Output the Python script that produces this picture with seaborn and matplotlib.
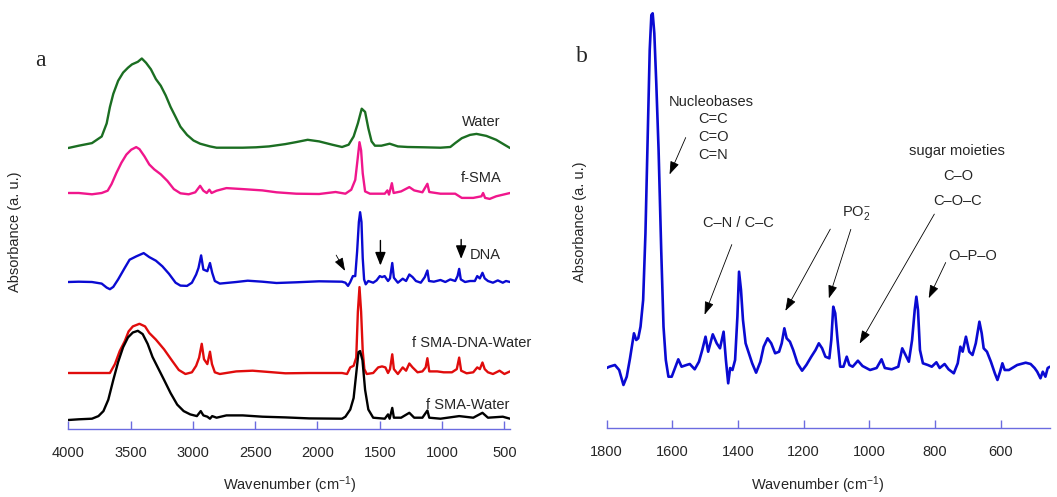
import matplotlib
matplotlib.use("Agg")
import matplotlib.pyplot as plt
import seaborn as sns

## FTIR spectra: (a) stacked samples, (b) DNA fingerprint region

# wavenumbers (cm-1) and absorbance above each curve's own baseline (a. u.)
water_wn = [4000, 3916, 3810, 3732, 3692, 3666, 3639, 3600, 3560, 3521, 3489, 3442, 3410, 3376,
            3337, 3297, 3258, 3218, 3179, 3139, 3100, 3047, 2995, 2942, 2863, 2810, 2705, 2600,
            2494, 2389, 2258, 2171, 2079, 1987, 1882, 1803, 1750, 1710, 1676, 1645, 1618, 1592,
            1566, 1539, 1487, 1421, 1355, 1276, 1145, 1013, 934, 895, 842, 776, 724, 645, 566,
            500, 455]
water_abs = [0.0, 0.023, 0.049, 0.115, 0.246, 0.41, 0.541, 0.672, 0.754, 0.803, 0.836, 0.862,
             0.895, 0.852, 0.787, 0.689, 0.623, 0.525, 0.41, 0.311, 0.213, 0.131, 0.075, 0.043,
             0.016, 0.003, 0.003, 0.003, 0.007, 0.016, 0.039, 0.059, 0.082, 0.066, 0.033, 0.01,
             0.033, 0.115, 0.246, 0.393, 0.361, 0.197, 0.066, 0.023, 0.023, 0.043, 0.016, 0.01,
             0.007, 0.003, 0.01, 0.049, 0.098, 0.131, 0.141, 0.121, 0.082, 0.033, 0.0]

fsma_wn = [4000, 3916, 3810, 3732, 3684, 3653, 3613, 3574, 3534, 3495, 3455, 3429, 3389, 3350,
           3310, 3258, 3205, 3153, 3100, 3034, 2981, 2942, 2916, 2889, 2868, 2850, 2810, 2731,
           2600, 2442, 2329, 2171, 1987, 1855, 1776, 1729, 1697, 1679, 1663, 1650, 1637, 1618,
           1579, 1460, 1439, 1426, 1403, 1389, 1329, 1263, 1224, 1158, 1118, 1103, 1013, 895,
           842, 750, 684, 671, 655, 618, 566, 455]
fsma_abs = [0.0, 0.0, -0.013, 0.0, 0.023, 0.089, 0.203, 0.302, 0.384, 0.433, 0.459, 0.439,
            0.367, 0.285, 0.236, 0.187, 0.121, 0.039, -0.003, -0.013, 0.007, 0.072, 0.023, 0.0,
            0.033, 0.0, 0.023, 0.049, 0.039, 0.026, 0.007, -0.007, -0.01, 0.01, -0.007, 0.033,
            0.131, 0.328, 0.508, 0.426, 0.197, 0.016, -0.007, -0.007, 0.026, -0.016, 0.098, 0.0,
            0.016, 0.059, 0.026, 0.007, 0.092, 0.01, -0.007, -0.007, -0.049, -0.049, -0.033, 0.0,
            -0.049, -0.059, -0.033, 0.0]

dna_wn = [4000, 3916, 3810, 3732, 3692, 3666, 3639, 3600, 3547, 3508, 3455, 3395, 3350, 3297,
          3245, 3192, 3139, 3100, 3047, 3008, 2974, 2955, 2934, 2916, 2884, 2863, 2845, 2824,
          2784, 2652, 2560, 2442, 2329, 2171, 1987, 1803, 1776, 1755, 1737, 1716, 1697, 1682,
          1668, 1658, 1647, 1637, 1626, 1613, 1592, 1553, 1526, 1500, 1482, 1461, 1434, 1418,
          1400, 1387, 1355, 1316, 1289, 1263, 1237, 1210, 1171, 1139, 1118, 1105, 1066, 1013,
          974, 934, 895, 876, 863, 850, 816, 776, 737, 718, 697, 676, 658, 632, 592, 553, 513,
          487, 455]
dna_abs = [0.0, 0.003, 0.0, -0.016, -0.056, -0.072, -0.049, 0.026, 0.141, 0.223, 0.256, 0.289,
           0.249, 0.213, 0.157, 0.082, -0.007, -0.036, -0.039, -0.007, 0.075, 0.141, 0.266, 0.125,
           0.108, 0.19, 0.092, 0.01, -0.016, 0.0, 0.013, 0.003, -0.01, -0.003, 0.007, 0.003,
           -0.007, -0.039, 0.0, 0.059, 0.059, 0.305, 0.6, 0.698, 0.6, 0.239, 0.026, -0.023, 0.01,
           -0.007, 0.016, 0.059, 0.049, 0.059, 0.01, 0.036, 0.19, 0.043, -0.007, 0.033, 0.01,
           0.075, 0.049, 0.01, -0.007, 0.049, 0.115, 0.01, 0.003, 0.02, 0.0, 0.026, 0.01, 0.059,
           0.131, 0.026, 0.0, 0.01, 0.01, 0.059, 0.036, 0.092, 0.036, 0.01, -0.007, 0.016,
           -0.007, 0.01, 0.0]

mix_wn = [4000, 3810, 3666, 3626, 3587, 3547, 3516, 3482, 3429, 3384, 3350, 3297, 3231, 3166,
          3113, 3060, 3008, 2974, 2950, 2929, 2911, 2884, 2863, 2847, 2824, 2784, 2652, 2521,
          2389, 2258, 2066, 1803, 1763, 1737, 1710, 1689, 1676, 1663, 1650, 1637, 1624, 1605,
          1553, 1513, 1482, 1455, 1434, 1418, 1400, 1387, 1355, 1316, 1289, 1263, 1237, 1197,
          1158, 1132, 1118, 1103, 1039, 987, 921, 882, 863, 847, 803, 750, 718, 697, 676, 658,
          632, 592, 539, 500, 455]
mix_abs = [0.0, 0.0, 0.0, 0.089, 0.22, 0.318, 0.416, 0.466, 0.492, 0.466, 0.4, 0.334, 0.236,
           0.121, 0.03, -0.01, 0.007, 0.072, 0.154, 0.292, 0.138, 0.089, 0.213, 0.089, 0.007,
           -0.01, 0.016, 0.023, 0.01, -0.003, 0.0, 0.0, -0.01, 0.056, 0.072, 0.154, 0.613, 0.859,
           0.613, 0.22, 0.039, -0.01, 0.0, 0.056, 0.066, 0.056, 0.0, 0.039, 0.187, 0.039, -0.01,
           0.056, 0.023, 0.095, 0.056, 0.007, 0.016, 0.056, 0.148, 0.016, 0.016, 0.007, 0.007,
           0.039, 0.154, 0.023, -0.003, 0.007, 0.056, 0.039, 0.105, 0.039, 0.007, -0.01, 0.023,
           -0.01, 0.016]

fsmaw_wn = [4000, 3916, 3810, 3758, 3718, 3679, 3639, 3600, 3560, 3521, 3482, 3442, 3403, 3363,
            3324, 3284, 3231, 3179, 3126, 3074, 3021, 2968, 2937, 2916, 2884, 2863, 2845, 2810,
            2731, 2600, 2442, 2258, 2066, 1803, 1776, 1737, 1710, 1689, 1671, 1658, 1639, 1618,
            1592, 1553, 1460, 1434, 1421, 1400, 1387, 1329, 1263, 1224, 1158, 1118, 1103, 1013,
            863, 750, 676, 632, 513, 455]
fsmaw_abs = [0.0, 0.007, 0.013, 0.039, 0.089, 0.203, 0.4, 0.58, 0.728, 0.826, 0.875, 0.892,
             0.859, 0.761, 0.63, 0.531, 0.4, 0.269, 0.154, 0.089, 0.056, 0.039, 0.089, 0.046,
             0.033, 0.013, 0.039, 0.023, 0.046, 0.046, 0.033, 0.026, 0.016, 0.013, 0.033, 0.105,
             0.22, 0.466, 0.679, 0.689, 0.597, 0.302, 0.105, 0.023, 0.013, 0.056, 0.013, 0.121,
             0.023, 0.023, 0.072, 0.023, 0.023, 0.095, 0.023, 0.013, 0.039, 0.023, 0.072, 0.023,
             0.033, 0.013]

names = ['Water', 'f-SMA', 'DNA', 'f SMA-DNA-Water', 'f SMA-Water']
offsets = [2.81, 2.36, 1.47, 0.56, 0.09]
colors = ['#1b6e22', '#f0168c', '#0a0ad2', '#e00c0c', '#000000']

# panel b: DNA spectrum 1800-450 cm-1
b_wn = [1800, 1792, 1775, 1762, 1749, 1739, 1729, 1722, 1717, 1710, 1704, 1697, 1689, 1682,
        1675, 1669, 1664, 1660, 1655, 1649, 1642, 1634, 1627, 1620, 1612, 1602, 1592, 1582,
        1572, 1557, 1547, 1532, 1519, 1509, 1499, 1491, 1477, 1465, 1455, 1444, 1437, 1430,
        1424, 1417, 1409, 1402, 1397, 1391, 1385, 1377, 1367, 1357, 1345, 1332, 1322, 1310,
        1299, 1287, 1275, 1267, 1259, 1252, 1242, 1232, 1219, 1205, 1192, 1177, 1164, 1154,
        1144, 1134, 1122, 1116, 1110, 1104, 1097, 1089, 1079, 1069, 1061, 1051, 1035, 1021,
        998, 978, 963, 953, 932, 912, 900, 890, 880, 870, 862, 857, 852, 846, 837, 822, 810,
        796, 786, 771, 759, 743, 731, 723, 716, 706, 696, 686, 676, 665, 658, 652, 642, 630,
        618, 610, 602, 595, 588, 575, 550, 524, 509, 497, 489, 479, 472, 464, 457, 450]
b_abs = [0.0, 0.013, 0.03, -0.02, -0.17, -0.087, 0.097, 0.247, 0.347, 0.28, 0.297, 0.413, 0.68,
         1.347, 2.347, 3.18, 3.53, 3.547, 3.347, 2.847, 2.18, 1.18, 0.413, 0.08, -0.087, -0.087,
         0.0, 0.087, 0.013, 0.03, 0.04, -0.013, 0.063, 0.18, 0.313, 0.163, 0.337, 0.247, 0.197,
         0.363, 0.08, -0.153, 0.0, -0.02, 0.08, 0.513, 0.963, 0.78, 0.48, 0.247, 0.147, 0.047,
         -0.047, 0.063, 0.213, 0.297, 0.247, 0.147, 0.163, 0.247, 0.397, 0.297, 0.263, 0.18,
         0.047, -0.027, 0.03, 0.113, 0.18, 0.247, 0.197, 0.113, 0.097, 0.28, 0.613, 0.547, 0.28,
         0.013, 0.013, 0.113, 0.03, 0.013, 0.073, 0.02, -0.02, 0.0, 0.087, 0.0, -0.013, 0.013,
         0.197, 0.13, 0.063, 0.28, 0.58, 0.713, 0.58, 0.18, 0.047, 0.03, 0.013, 0.057, 0.0,
         0.04, -0.013, -0.053, 0.047, 0.213, 0.163, 0.313, 0.163, 0.13, 0.247, 0.463, 0.347,
         0.197, 0.163, 0.063, -0.053, -0.12, -0.037, 0.047, -0.02, -0.02, 0.03, 0.053, 0.04,
         0.0, -0.037, -0.103, -0.037, -0.087, 0.0, 0.013]
b_offset = 0.6

sns.set_style("white")
plt.rcParams['font.family'] = ['Liberation Sans', 'DejaVu Sans']
plt.rcParams['mathtext.fontset'] = 'custom'
plt.rcParams['mathtext.rm'] = 'Liberation Sans'
plt.rcParams['mathtext.it'] = 'Liberation Sans'

fig = plt.figure(figsize=(10.57, 4.97), dpi=100)
ax1 = fig.add_axes([68.3 / 1057, 68 / 497, 441.7 / 1057, 429 / 497])
ax2 = fig.add_axes([606.7 / 1057, 69 / 497, 443.3 / 1057, 428 / 497])

spectra = [(water_wn, water_abs), (fsma_wn, fsma_abs), (dna_wn, dna_abs),
           (mix_wn, mix_abs), (fsmaw_wn, fsmaw_abs)]
for (wn, ab), off, c in zip(spectra, offsets, colors):
    sns.lineplot(x=wn, y=[a + off for a in ab], ax=ax1, color=c, lw=1.7,
                 sort=False, estimator=None)

sns.lineplot(x=b_wn, y=[a + b_offset for a in b_abs], ax=ax2, color='#0a0ad2', lw=1.9,
             sort=False, estimator=None)

spine_col = '#6b6be0'
for ax, lims, ticks, top in [(ax1, (4000, 455), [4000, 3500, 3000, 2500, 2000, 1500, 1000, 500], 4.29),
                              (ax2, (1800, 450), [1800, 1600, 1400, 1200, 1000, 800, 600], 4.28)]:
    ax.set_xlim(*lims)
    ax.set_ylim(0, top)
    ax.set_xticks(ticks)
    ax.set_xticklabels([str(t) for t in ticks])
    ax.set_yticks([])
    for s in ['top', 'left', 'right']:
        ax.spines[s].set_visible(False)
    ax.spines['bottom'].set_color(spine_col)
    ax.spines['bottom'].set_linewidth(1.0)
    ax.tick_params(axis='x', direction='in', length=6, width=1, color=spine_col,
                   labelsize=10.5, pad=12, bottom=True)
    ax.set_xlabel('Wavenumber (cm$^{-1}$)', fontsize=10.5)
    ax.set_ylabel('Absorbance (a. u.)', fontsize=10.5)
    ax.patch.set_alpha(0)

ax1.xaxis.set_label_coords(0.502, -0.106)
ax2.xaxis.set_label_coords(0.477, -0.108)
ax1.yaxis.set_label_coords(-0.104, 0.46)
ax2.yaxis.set_label_coords(-0.044, 0.483)

# sample names on the left panel
ax1.text(686, 3.07, 'Water', ha='center', va='center', fontsize=10.5)
ax1.text(686, 2.507, 'f-SMA', ha='center', va='center', fontsize=10.5)
ax1.text(782, 1.74, 'DNA', ha='left', va='center', fontsize=10.5)
ax1.text(1238, 0.857, 'f SMA-DNA-Water', ha='left', va='center', fontsize=10.5, clip_on=False)
ax1.text(1128, 0.24, 'f SMA-Water', ha='left', va='center', fontsize=10.5)

thin = dict(arrowstyle='-|>,head_length=0.8,head_width=0.28', color='black', lw=0.6)
thick = dict(arrowstyle='-|>,head_length=0.8,head_width=0.32', color='black', lw=1.0)
ax1.annotate('', xy=(1768, 1.557), xytext=(1861, 1.763), arrowprops=thin)
ax1.annotate('', xy=(1495, 1.607), xytext=(1495, 1.913), arrowprops=thick)
ax1.annotate('', xy=(847, 1.673), xytext=(847, 1.923), arrowprops=thick)

# band assignments on the right panel
fs = 10.5
ax2.text(1482, 3.26, 'Nucleobases', ha='center', va='center', fontsize=fs)
ax2.text(1476, 3.087, 'C=C', ha='center', va='center', fontsize=fs)
ax2.text(1476, 2.91, 'C=O', ha='center', va='center', fontsize=fs)
ax2.text(1476, 2.73, 'C=N', ha='center', va='center', fontsize=fs)
ax2.annotate('', xy=(1612, 2.51), xytext=(1556, 2.93), arrowprops=thin)

ax2.text(1398, 2.053, 'C\u2013N / C\u2013C', ha='center', va='center', fontsize=fs)
ax2.annotate('', xy=(1505, 1.107), xytext=(1416, 1.86), arrowprops=thin)

ax2.text(1083, 2.15, 'PO$_2^{-}$', ha='left', va='center', fontsize=fs)
ax2.annotate('', xy=(1260, 1.147), xytext=(1115, 2.013), arrowprops=thin)
ax2.annotate('', xy=(1126, 1.27), xytext=(1054, 2.013), arrowprops=thin)

ax2.text(733, 2.773, 'sugar moieties', ha='center', va='center', fontsize=fs)
ax2.text(728, 2.523, 'C\u2013O', ha='center', va='center', fontsize=fs)
ax2.text(730, 2.27, 'C\u2013O\u2013C', ha='center', va='center', fontsize=fs)
ax2.annotate('', xy=(1034, 0.82), xytext=(798, 2.163), arrowprops=thin)

ax2.text(685, 1.72, 'O\u2013P\u2013O', ha='center', va='center', fontsize=fs)
ax2.annotate('', xy=(823, 1.273), xytext=(764, 1.68), arrowprops=thin)

fig.text(40 / 1057, 1 - 60 / 497, 'a', fontsize=17, family='Liberation Serif', ha='center', va='center')
fig.text(581.7 / 1057, 1 - 56.7 / 497, 'b', fontsize=17, family='Liberation Serif', ha='center', va='center')

fig.savefig('out.png', dpi=100)
